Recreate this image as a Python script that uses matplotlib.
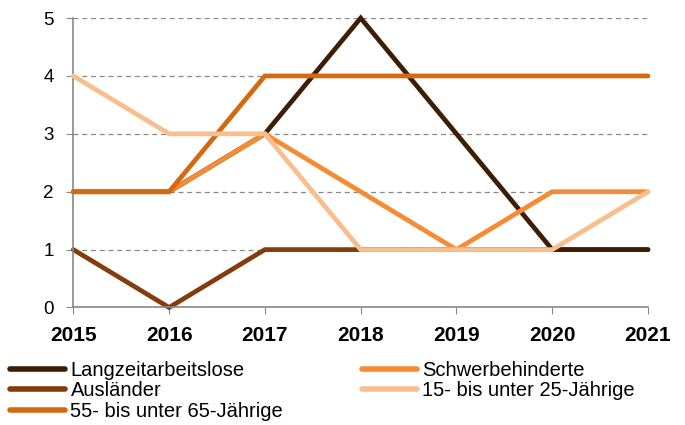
import matplotlib
matplotlib.use('Agg')
from matplotlib import pyplot as plt

plt.rcParams['font.family'] = ['Liberation Sans', 'DejaVu Sans']

years = [2015, 2016, 2017, 2018, 2019, 2020, 2021]
langzeit = [2, 2, 3, 5, 3, 1, 1]
schwer = [2, 2, 3, 2, 1, 2, 2]
auslaender = [1, 0, 1, 1, 1, 1, 1]
jung = [4, 3, 3, 1, 1, 1, 2]
alt = [2, 2, 4, 4, 4, 4, 4]

labels = ['Langzeitarbeitslose', 'Schwerbehinderte', 'Ausländer',
          '15- bis unter 25-Jährige', '55- bis unter 65-Jährige']
colors = ['#3D1E05', '#F68B33', '#843C0C', '#F8BE8D', '#D4690F']
zorders = [3, 4, 2, 6, 5]


def main():
    fig = plt.figure(figsize=(6.85, 4.25), dpi=100, facecolor='white')
    ax = fig.add_axes([0.107, 0.2765, 0.839, 0.681])

    series = [langzeit, schwer, auslaender, jung, alt]
    lines = []
    for vals, lab, col, z in zip(series, labels, colors, zorders):
        ln, = ax.plot(years, vals, color=col, lw=3.4, label=lab, zorder=z,
                      solid_capstyle='round', solid_joinstyle='miter', clip_on=False)
        lines.append(ln)

    ax.set_xlim(2015, 2021)
    ax.set_ylim(0, 5)
    ax.set_yticks(range(6))
    ax.set_xticks(years)
    ax.set_xticklabels([str(y) for y in years], fontsize=15, fontweight='bold')
    ax.tick_params(axis='y', labelsize=13.5, length=5, color='#888888', direction='out', pad=9)
    ax.tick_params(axis='x', length=5, color='#888888', direction='out', pad=8)
    ax.grid(axis='y', color='#888888', linestyle=(0, (4, 3)), lw=0.9)
    ax.set_axisbelow(True)
    for s in ['top', 'right']:
        ax.spines[s].set_visible(False)
    for s in ['left', 'bottom']:
        ax.spines[s].set_color('#888888')
        ax.spines[s].set_linewidth(1.2)

    # Reihenfolge zeilenweise wie im Original
    order = [0, 2, 4, 1, 3]
    leg = fig.legend([lines[i] for i in order], [labels[i] for i in order],
                     ncol=2, loc='upper left', bbox_to_anchor=(0.0088, 0.16),
                     frameon=False, fontsize=14.5, handlelength=2.75, handletextpad=0.25,
                     labelspacing=0.07, columnspacing=3.9, borderaxespad=0, borderpad=0.2)
    for h in leg.legend_handles:
        h.set_linewidth(4)

    fig.savefig('out.png', dpi=100, facecolor='white')


if __name__ == '__main__':
    main()
